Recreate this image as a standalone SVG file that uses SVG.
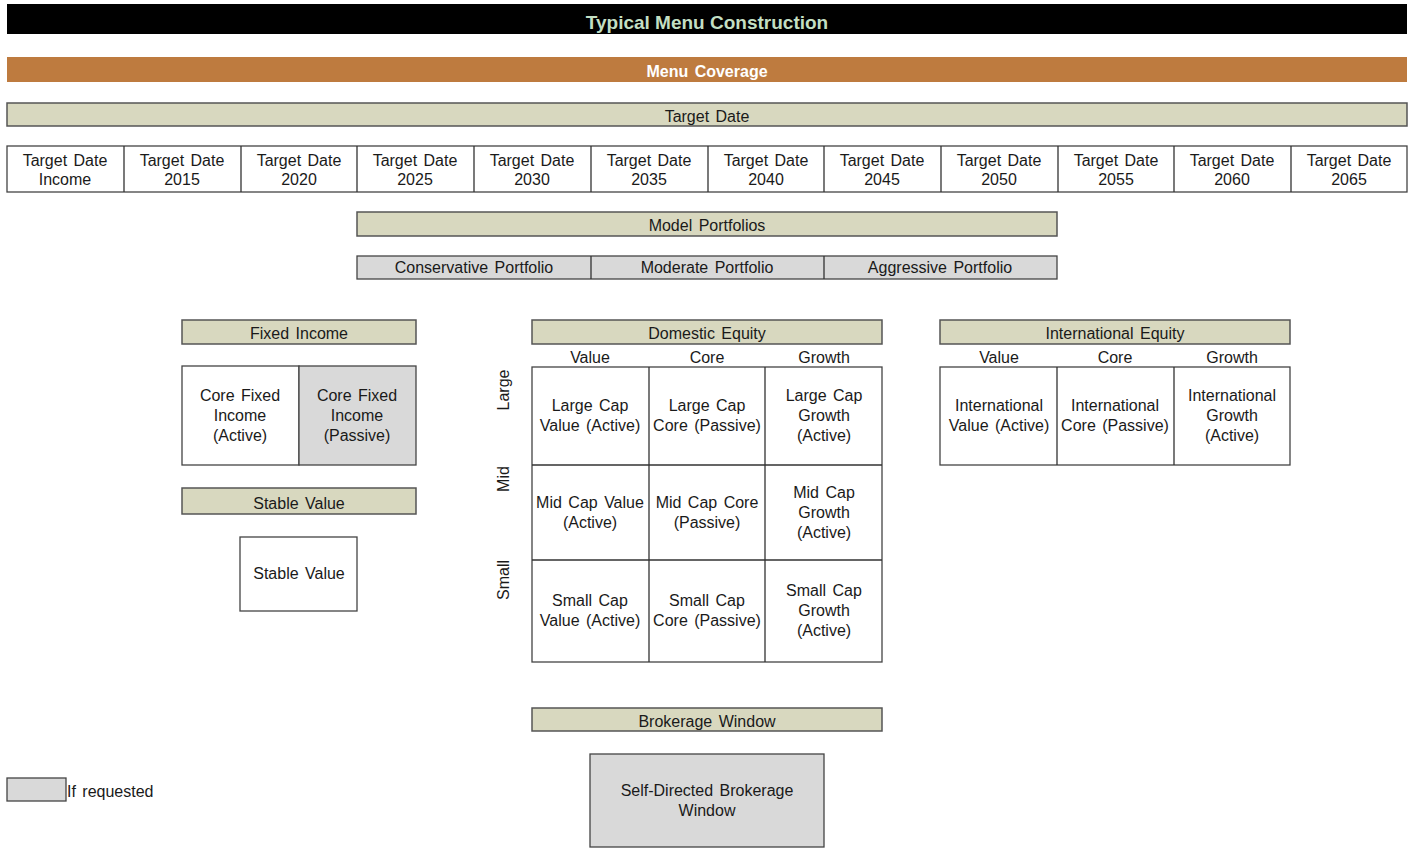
<svg xmlns="http://www.w3.org/2000/svg" width="1412" height="848" viewBox="0 0 1412 848">
<style>
text{font-family:"Liberation Sans",Arial,sans-serif;font-size:16px;fill:#1a1a1a;text-anchor:middle;word-spacing:2px}
.hdr{fill:#D8D8BF;stroke:#555;stroke-width:1.5}
.cell{fill:#fff;stroke:#444;stroke-width:1.3}
.gray{fill:#D9D9D9;stroke:#444;stroke-width:1.3}
.ln{stroke:#333;stroke-width:1.3;fill:none}
.title{font-weight:bold;font-size:19px;fill:#C3DFC3;word-spacing:0}
.sub{font-weight:bold;font-size:16px;fill:#fff}
</style>
<rect width="1412" height="848" fill="#fff"/>

<g id="title">
<rect x="7" y="4" width="1400" height="30" fill="#000"/>
<text class="title" x="707" y="29">Typical Menu Construction</text>
</g>

<g id="menu-coverage">
<rect x="7" y="57" width="1400" height="25" fill="#BE7B3F"/>
<text class="sub" x="707" y="77">Menu Coverage</text>
</g>

<g id="target-date-header">
<rect class="hdr" x="7" y="103" width="1400" height="23"/>
<text x="707" y="122">Target Date</text>
</g>

<g id="target-date-row">
<rect class="cell" x="7" y="146" width="1400" height="46"/>
<path class="ln" d="M124 146V192M241 146V192M357 146V192M474 146V192M591 146V192M708 146V192M824 146V192M941 146V192M1058 146V192M1174 146V192M1291 146V192"/>
<text x="65" y="166">Target Date</text><text x="65" y="185">Income</text>
<text x="182" y="166">Target Date</text><text x="182" y="185">2015</text>
<text x="299" y="166">Target Date</text><text x="299" y="185">2020</text>
<text x="415" y="166">Target Date</text><text x="415" y="185">2025</text>
<text x="532" y="166">Target Date</text><text x="532" y="185">2030</text>
<text x="649" y="166">Target Date</text><text x="649" y="185">2035</text>
<text x="766" y="166">Target Date</text><text x="766" y="185">2040</text>
<text x="882" y="166">Target Date</text><text x="882" y="185">2045</text>
<text x="999" y="166">Target Date</text><text x="999" y="185">2050</text>
<text x="1116" y="166">Target Date</text><text x="1116" y="185">2055</text>
<text x="1232" y="166">Target Date</text><text x="1232" y="185">2060</text>
<text x="1349" y="166">Target Date</text><text x="1349" y="185">2065</text>
</g>

<g id="model-portfolios-header">
<rect class="hdr" x="357" y="212" width="700" height="24"/>
<text x="707" y="231">Model Portfolios</text>
</g>

<g id="model-portfolios">
<rect class="gray" x="357" y="256" width="700" height="23"/>
<path class="ln" d="M591 256V279M824 256V279"/>
<text x="474" y="273">Conservative Portfolio</text>
<text x="707" y="273">Moderate Portfolio</text>
<text x="940" y="273">Aggressive Portfolio</text>
</g>

<g id="fixed-income-header">
<rect class="hdr" x="182" y="320" width="234" height="24"/>
<text x="299" y="339">Fixed Income</text>
</g>

<g id="fixed-income">
<rect class="cell" x="182" y="366" width="117" height="99"/>
<rect class="gray" x="299" y="366" width="117" height="99"/>
<text x="240" y="401">Core Fixed</text><text x="240" y="421">Income</text><text x="240" y="441">(Active)</text>
<text x="357" y="401">Core Fixed</text><text x="357" y="421">Income</text><text x="357" y="441">(Passive)</text>
</g>

<g id="stable-value-header">
<rect class="hdr" x="182" y="488" width="234" height="26"/>
<text x="299" y="509">Stable Value</text>
</g>

<g id="stable-value">
<rect class="cell" x="240" y="537" width="117" height="74"/>
<text x="299" y="579">Stable Value</text>
</g>

<g id="domestic-equity-header">
<rect class="hdr" x="532" y="320" width="350" height="24"/>
<text x="707" y="339">Domestic Equity</text>
<text x="590" y="363">Value</text>
<text x="707" y="363">Core</text>
<text x="824" y="363">Growth</text>
<text transform="translate(509,390) rotate(-90)" x="0" y="0">Large</text>
<text transform="translate(509,479) rotate(-90)" x="0" y="0">Mid</text>
<text transform="translate(509,580) rotate(-90)" x="0" y="0">Small</text>
</g>

<g id="domestic-equity">
<rect class="cell" x="532" y="367" width="350" height="295"/>
<path class="ln" d="M649 367V662M765 367V662M532 465H882M532 560H882"/>
<text x="590" y="411">Large Cap</text><text x="590" y="431">Value (Active)</text>
<text x="707" y="411">Large Cap</text><text x="707" y="431">Core (Passive)</text>
<text x="824" y="401">Large Cap</text><text x="824" y="421">Growth</text><text x="824" y="441">(Active)</text>
<text x="590" y="508">Mid Cap Value</text><text x="590" y="528">(Active)</text>
<text x="707" y="508">Mid Cap Core</text><text x="707" y="528">(Passive)</text>
<text x="824" y="498">Mid Cap</text><text x="824" y="518">Growth</text><text x="824" y="538">(Active)</text>
<text x="590" y="606">Small Cap</text><text x="590" y="626">Value (Active)</text>
<text x="707" y="606">Small Cap</text><text x="707" y="626">Core (Passive)</text>
<text x="824" y="596">Small Cap</text><text x="824" y="616">Growth</text><text x="824" y="636">(Active)</text>
</g>

<g id="international-equity-header">
<rect class="hdr" x="940" y="320" width="350" height="24"/>
<text x="1115" y="339">International Equity</text>
<text x="999" y="363">Value</text>
<text x="1115" y="363">Core</text>
<text x="1232" y="363">Growth</text>
</g>

<g id="international-equity">
<rect class="cell" x="940" y="367" width="350" height="98"/>
<path class="ln" d="M1057 367V465M1174 367V465"/>
<text x="999" y="411">International</text><text x="999" y="431">Value (Active)</text>
<text x="1115" y="411">International</text><text x="1115" y="431">Core (Passive)</text>
<text x="1232" y="401">International</text><text x="1232" y="421">Growth</text><text x="1232" y="441">(Active)</text>
</g>

<g id="brokerage-window-header">
<rect class="hdr" x="532" y="708" width="350" height="23"/>
<text x="707" y="727">Brokerage Window</text>
</g>

<g id="brokerage-window">
<rect class="gray" x="590" y="754" width="234" height="93"/>
<text x="707" y="796">Self-Directed Brokerage</text>
<text x="707" y="816">Window</text>
</g>

<g id="legend">
<rect class="gray" x="7" y="778" width="59" height="23"/>
<text x="67" y="797" style="text-anchor:start">If requested</text>
</g>

<g id="connectors"></g>
</svg>
